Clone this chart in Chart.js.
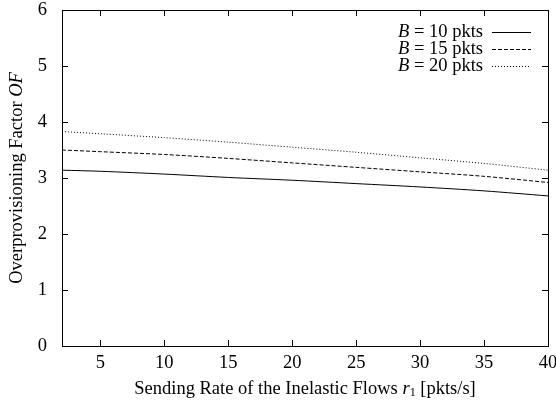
<!DOCTYPE html>
<html lang="en">
<head>
  <meta charset="UTF-8">
  <title>Overprovisioning Factor</title>
  <script src="https://cdn.jsdelivr.net/npm/chart.js"></script>
  <style>
    body { margin: 0; background: #fff; }
    .container { width: 556px; height: 404px; }
  </style>
</head>
<body>
  <div class="container">
    <canvas id="ofChart" width="556" height="404"></canvas>
  </div>

  <script>
    // sending rate r1 [pkts/s]
    const rates = [2, 5, 10, 15, 20, 25, 30, 35, 40];
    // overprovisioning factor per buffer size
    const of10 = [3.14, 3.12, 3.07, 3.01, 2.96, 2.90, 2.84, 2.77, 2.68];
    const of15 = [3.50, 3.47, 3.42, 3.35, 3.27, 3.19, 3.11, 3.03, 2.92];
    const of20 = [3.83, 3.79, 3.72, 3.64, 3.55, 3.46, 3.36, 3.26, 3.14];
    const legendLabels = ['10 pkts', '15 pkts', '20 pkts'];
    const xTicks = [5, 10, 15, 20, 25, 30, 35, 40];
    const yTicks = [0, 1, 2, 3, 4, 5, 6];

    const serif = '"Liberation Serif", "Times New Roman", serif';
    const fs = 18.5;
    const dashes = [[], [4, 2], [1, 2]];

    const toPoints = vals => rates.map((r, i) => ({ x: r, y: vals[i] }));

    // gnuplot-style box, inward ticks, axis titles and legend
    const gnuplotFrame = {
      id: 'gnuplotFrame',
      afterDraw(chart) {
        const { ctx, chartArea: a, scales } = chart;
        ctx.save();
        ctx.strokeStyle = '#000';
        ctx.lineWidth = 1;
        ctx.setLineDash([]);
        ctx.strokeRect(Math.round(a.left) + 0.5, Math.round(a.top) + 0.5,
          Math.round(a.right - a.left), Math.round(a.bottom - a.top));

        ctx.beginPath();
        xTicks.forEach(v => {
          const px = Math.round(scales.x.getPixelForValue(v)) + 0.5;
          ctx.moveTo(px, a.bottom); ctx.lineTo(px, a.bottom - 6);
          ctx.moveTo(px, a.top); ctx.lineTo(px, a.top + 6);
        });
        yTicks.forEach(v => {
          const py = Math.round(scales.y.getPixelForValue(v)) + 0.5;
          ctx.moveTo(a.left, py); ctx.lineTo(a.left + 6, py);
          ctx.moveTo(a.right, py); ctx.lineTo(a.right - 6, py);
        });
        ctx.stroke();

        ctx.fillStyle = '#000';
        ctx.textBaseline = 'middle';

        // x title with italic r and subscript 1
        const xParts = [
          ['Sending Rate of the Inelastic Flows ', fs + 'px ' + serif, 0],
          ['r', 'italic ' + fs + 'px ' + serif, 0],
          ['1', '12px ' + serif, 4],
          [' [pkts/s]', fs + 'px ' + serif, 0]
        ];
        let total = 0;
        xParts.forEach(p => { ctx.font = p[1]; total += ctx.measureText(p[0]).width; });
        let cx = (a.left + a.right) / 2 - total / 2;
        xParts.forEach(p => {
          ctx.font = p[1];
          ctx.textAlign = 'left';
          ctx.fillText(p[0], cx, 389 + p[2]);
          cx += ctx.measureText(p[0]).width;
        });

        // y title rotated
        ctx.save();
        ctx.translate(17, (a.top + a.bottom) / 2);
        ctx.rotate(-Math.PI / 2);
        const yParts = [
          ['Overprovisioning Factor ', fs + 'px ' + serif],
          ['OF', 'italic ' + fs + 'px ' + serif]
        ];
        total = 0;
        yParts.forEach(p => { ctx.font = p[1]; total += ctx.measureText(p[0]).width; });
        cx = -total / 2;
        yParts.forEach(p => {
          ctx.font = p[1];
          ctx.fillText(p[0], cx, 0);
          cx += ctx.measureText(p[0]).width;
        });
        ctx.restore();

        // legend
        legendLabels.forEach((lbl, i) => {
          const y = 32 + i * 17;
          ctx.font = fs + 'px ' + serif;
          ctx.textAlign = 'right';
          const rest = ' = ' + lbl;
          ctx.fillText(rest, 483, y);
          const w = ctx.measureText(rest).width;
          ctx.font = 'italic ' + fs + 'px ' + serif;
          ctx.fillText('B', 483 - w, y);

          ctx.beginPath();
          ctx.setLineDash(dashes[i]);
          ctx.moveTo(492, y + 0.5);
          ctx.lineTo(531, y + 0.5);
          ctx.stroke();
        });
        ctx.restore();
      }
    };

    const ctx = document.getElementById('ofChart').getContext('2d');
    new Chart(ctx, {
      type: 'line',
      data: {
        datasets: [of10, of15, of20].map((vals, i) => ({
          label: 'B = ' + legendLabels[i],
          data: toPoints(vals),
          borderColor: '#000',
          borderWidth: 1,
          borderDash: dashes[i],
          pointRadius: 0,
          tension: 0.3,
          fill: false
        }))
      },
      options: {
        responsive: false,
        animation: false,
        layout: { padding: { top: 10, right: 8, left: 0, bottom: 0 } },
        plugins: {
          legend: { display: false },
          tooltip: { enabled: false }
        },
        scales: {
          x: {
            type: 'linear',
            min: 2,
            max: 40,
            afterBuildTicks: s => { s.ticks = xTicks.map(v => ({ value: v })); },
            afterFit: s => { s.height = 58; s.paddingLeft = 0; s.paddingRight = 0; },
            grid: { display: false },
            border: { display: false },
            ticks: {
              color: '#000',
              font: { family: serif, size: fs },
              padding: -2,
              maxRotation: 0
            }
          },
          y: {
            type: 'linear',
            min: 0,
            max: 6,
            afterBuildTicks: s => { s.ticks = yTicks.map(v => ({ value: v })); },
            afterFit: s => { s.width = 62; s.paddingTop = 0; s.paddingBottom = 0; },
            grid: { display: false },
            border: { display: false },
            ticks: {
              color: '#000',
              font: { family: serif, size: fs },
              padding: 7
            }
          }
        }
      },
      plugins: [gnuplotFrame]
    });
  </script>
</body>
</html>
